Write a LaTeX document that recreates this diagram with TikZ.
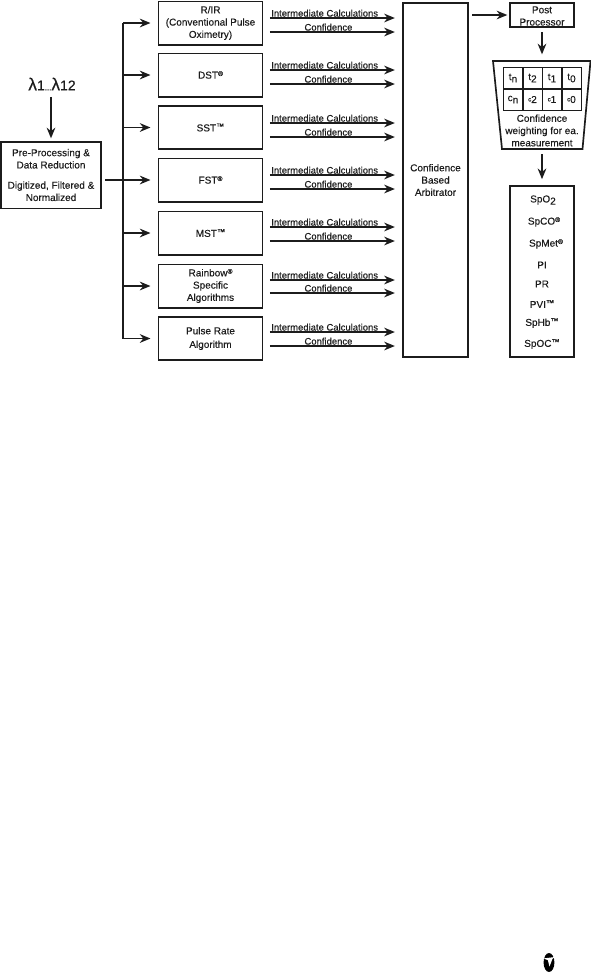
\documentclass[tikz,border=0pt]{standalone}
\usepackage{fontspec}
\setmainfont[FakeBold=0.25]{Liberation Sans}
\usetikzlibrary{arrows.meta}
\newcommand{\lowr}[1]{\raisebox{-1.6pt}{#1}}
\newcommand{\rg}{\raisebox{2.0pt}{\fontsize{5}{4}\selectfont ®}}
\newcommand{\tmk}{\raisebox{1.6pt}{\fontsize{6.2}{4}\selectfont ™}}
\newcommand{\smc}{\raisebox{1.2pt}{\fontsize{4.5}{5}\selectfont c}}
\definecolor{ink}{HTML}{1C1C1C}
\tikzset{
  x=0.75pt,y=-0.75pt,
  every node/.style={text=ink,inner sep=0pt,outer sep=0pt},
  txt/.style={font=\fontsize{7.5}{9.2}\selectfont,align=center},
  algbox/.style={txt,draw=ink,line width=1.25pt,minimum width=78pt,minimum height=32.5pt},
  flow/.style={draw=ink,line width=1.25pt,-{Stealth[length=8pt,width=6.5pt]}},
  wire/.style={draw=ink,line width=1.4pt},
  lab/.style={font=\fontsize{7.1}{8}\selectfont,anchor=base},
  cell/.style={draw=ink,line width=1pt,minimum width=14.5pt,minimum height=16pt,font=\fontsize{7.5}{9}\selectfont},
  outlab/.style={font=\fontsize{7.5}{9}\selectfont}
}
\begin{document}
\begin{tikzpicture}
\useasboundingbox (0,0) rectangle (591,972);
\fill[white] (0,0) rectangle (591,972);

% input
\node[font=\fontsize{10.5}{12}\selectfont] (lam) at (52,84) {{\fontsize{13}{12}\selectfont λ}1{\fontsize{6}{8}\selectfont ...}{\fontsize{13}{12}\selectfont λ}12};
\node[txt,draw=ink,line width=1.25pt,minimum width=75pt,minimum height=50pt] (pre) at (51,175)
  {Pre-Processing \&\\Data Reduction\\[6pt]Digitized, Filtered \&\\Normalized};
\draw[flow,shorten <=5pt,shorten >=2.5pt] (lam.south -| pre.north) -- (pre.north);

% algorithm boxes
\node[algbox] (ri) at (210.5,23) {R/IR\\(Conventional Pulse\\Oximetry)};
\node[algbox] (dst) at (210.5,75) {DST\rg};
\node[algbox] (sst) at (210.5,127.5) {SST\tmk};
\node[algbox] (fst) at (210.5,180) {FST\rg};
\node[algbox] (mst) at (210.5,233) {MST\tmk};
\node[algbox] (rb) at (210.5,286) {Rainbow\rg\\Specific\\Algorithms};
\node[algbox] (prt) at (210.5,338.5) {Pulse Rate\\[1pt]Algorithm};

% bus
\coordinate (bustop) at (123,23);
\coordinate (busbot) at (123,339);
\draw[wire] (bustop) -- (busbot);
\draw[flow,shorten <=3pt,shorten >=6pt] (pre.east |- fst.west) -- (fst.west);
\foreach \b in {ri,dst,sst,mst,rb,prt}
  \draw[flow,shorten >=6pt] (bustop |- \b.west) -- (\b.west);

% arbitrator
\node[txt,draw=ink,line width=1.25pt,minimum width=49pt,minimum height=265.5pt] (arb) at (435.5,180)
  {Confidence\\Based\\Arbitrator};

% outputs
\foreach \b/\ya/\yb in {ri/18/32,dst/70/84,sst/123/137,fst/175/189,mst/227/241,rb/280/293,prt/332/346}{
  \draw[flow,shorten <=5.5pt,shorten >=6pt] (\b.east |- 0,\ya) -- node[lab,pos=.443,above=1pt] {Intermediate Calculations} (arb.west |- 0,\ya);
  \draw[flow,shorten <=5.5pt,shorten >=6pt] (\b.east |- 0,\yb) -- node[lab,pos=.47,above=1pt] {Confidence} (arb.west |- 0,\yb);
}

% post processor
\node[draw=ink,line width=1.25pt,minimum width=48pt,minimum height=18pt] (post) at (542,15) {};
\node[txt,text width=48pt] (posttxt) at (542,16) {Post\\Processor};
\draw[flow,shorten <=3pt,shorten >=2pt] (arb.east |- post.west) -- (post.west);

% trapezoid
\coordinate (tl) at (493,61);
\coordinate (tr) at (590.5,61);
\coordinate (br) at (582.5,149);
\coordinate (bl) at (502,149);
\coordinate (ttop) at (542,61);
\coordinate (tbot) at (542,149);
\draw[draw=ink,line width=1.25pt] (tl) -- (tr) -- (br) -- (bl) -- cycle;
\draw[flow,shorten <=4pt,shorten >=5pt] (post.south) -- (ttop);
\node[cell] (t3) at (513,78) {t\lowr{n}};
\node[cell] (t2) at (532.5,78) {t\lowr{2}};
\node[cell] (t1) at (552,78) {t\lowr{1}};
\node[cell] (t0) at (571.5,78) {t\lowr{0}};
\node[cell] (c3) at (513,99.5) {c\lowr{n}};
\node[cell] (c2) at (532.5,99.5) {\smc 2};
\node[cell] (c1) at (552,99.5) {\smc 1};
\node[cell] (c0) at (571.5,99.5) {\smc 0};
\node[txt] (cw) at (542,130.5) {Confidence\\weighting for ea.\\measurement};

% result box
\node[draw=ink,line width=1.25pt,minimum width=48pt,minimum height=128.5pt] (res) at (542,271.5) {};
\draw[flow,shorten <=4pt,shorten >=5pt] (tbot) -- (res.north);
\node[outlab] (o1) at (543,200) {SpO\lowr{2}};
\node[outlab] (o2) at (544,222) {SpCO\rg};
\node[outlab] (o3) at (546,244) {SpMet\rg};
\node[outlab] (o4) at (542,265) {PI};
\node[outlab] (o5) at (542,284) {PR};
\node[outlab] (o6) at (542,304) {PVI\tmk};
\node[outlab] (o7) at (542,323) {SpHb\tmk};
\node[outlab] (o8) at (542,344) {SpOC\tmk};

% logo
\fill[black] (549,962.5) ellipse [x radius=5.4,y radius=9.5];
\fill[white] (543,958.5) -- (555,957) -- (552.5,958.8) -- (549.5,966.5) -- (547.8,960) -- cycle;
\end{tikzpicture}
\end{document}
